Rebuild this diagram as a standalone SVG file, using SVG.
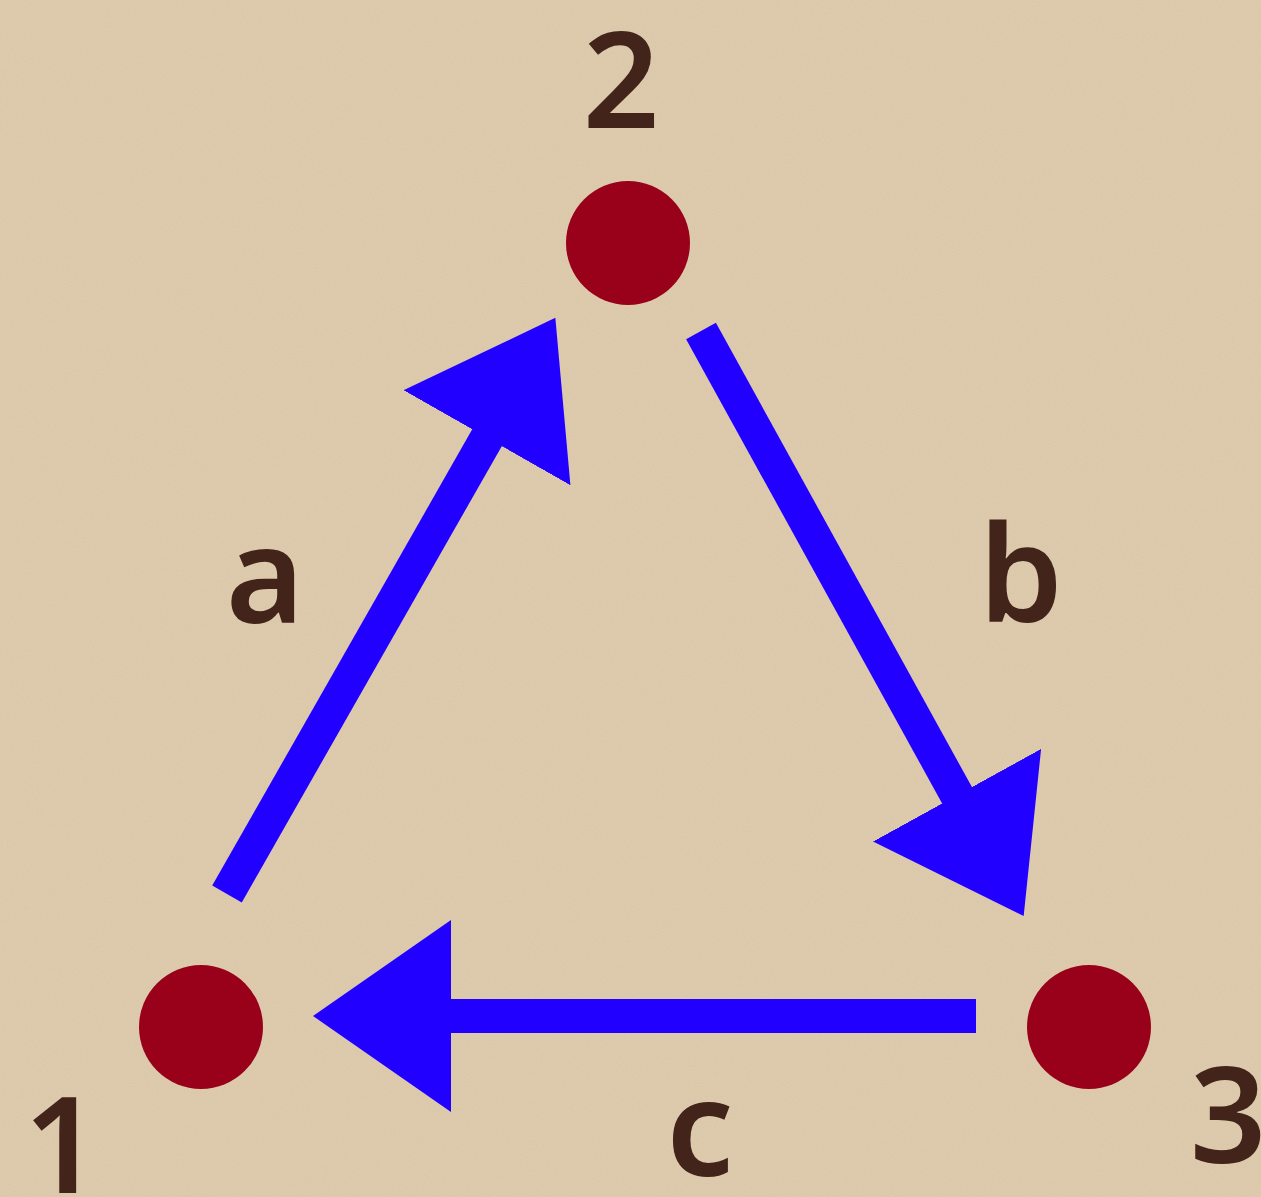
<svg xmlns="http://www.w3.org/2000/svg" width="1261" height="1197" viewBox="0 0 1261 1197">
  <defs>
    <filter id="grain" x="0" y="0" width="100%" height="100%">
      <feTurbulence type="fractalNoise" baseFrequency="0.9" numOctaves="2" seed="3" result="n"/>
      <feColorMatrix in="n" type="matrix" values="0 0 0 0 0.55  0 0 0 0 0.45  0 0 0 0 0.3  0 0 0 0.3 -0.06"/>
    </filter>
    <marker id="head" markerUnits="userSpaceOnUse" markerWidth="140" markerHeight="192" viewBox="0 0 140 192" refX="2" refY="96" orient="auto">
      <path d="M0,0 L138,96 L0,192 Z" fill="#2200ff"/>
    </marker>
    <style>
      .node { fill: #99001a; }
      .lbl { font-family: "Noto Sans", "DejaVu Sans", sans-serif; font-weight: 600; font-size: 134px; fill: #42241b; text-anchor: middle; }
      .edge { stroke: #2200ff; stroke-width: 34; fill: none; marker-end: url(#head); }
    </style>
  </defs>
  <rect width="1261" height="1197" fill="#dfcbad"/>
  <rect width="1261" height="1197" filter="url(#grain)"/>

  <g id="connectors">
    <line id="edge-a" class="edge" x1="227" y1="894" x2="488" y2="436"/>
    <line id="edge-b" class="edge" x1="701" y1="331" x2="958" y2="797"/>
    <line id="edge-c" class="edge" x1="976" y1="1016" x2="449" y2="1016"/>
  </g>

  <g id="node-1">
    <circle class="node" cx="201" cy="1027" r="62"/>
    <text class="lbl" x="62" y="1193">1</text>
  </g>
  <g id="node-2">
    <circle class="node" cx="628" cy="243" r="62"/>
    <text class="lbl" x="621" y="128">2</text>
  </g>
  <g id="node-3">
    <circle class="node" cx="1089" cy="1027" r="62"/>
    <text class="lbl" x="1228" y="1163">3</text>
  </g>

  <g id="edge-labels">
    <text class="lbl" x="265" y="623">a</text>
    <text class="lbl" x="1021" y="622">b</text>
    <text class="lbl" x="700" y="1176">c</text>
  </g>
</svg>
